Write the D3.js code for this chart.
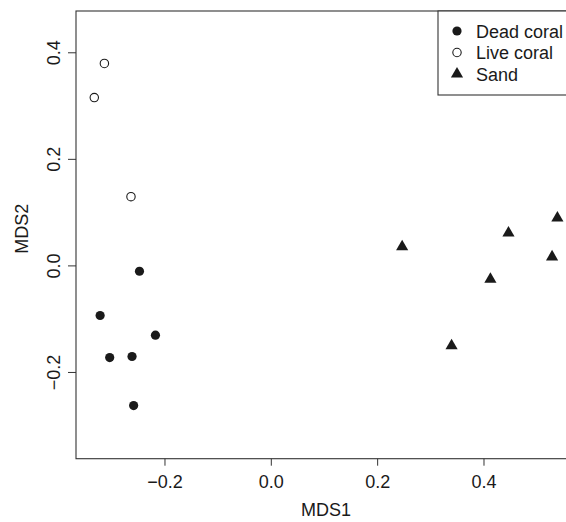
<!DOCTYPE html>
<html>
<head>
<meta charset="utf-8">
<script src="https://cdn.jsdelivr.net/npm/d3@7/dist/d3.min.js"></script>
<style>
  html, body { margin: 0; padding: 0; background: #fff; }
  svg { display: block; }
  text { font-family: "Liberation Sans", Arial, Helvetica, sans-serif; fill: #1a1a1a; }
</style>
</head>
<body>
<svg id="chart" width="566" height="522"></svg>
<script>
// NMDS ordination scores per habitat
const deadMDS1 = [-0.247, -0.321, -0.217, -0.303, -0.261, -0.258];
const deadMDS2 = [-0.011, -0.094, -0.131, -0.173, -0.171, -0.263];
const liveMDS1 = [-0.313, -0.332, -0.263];
const liveMDS2 = [0.379, 0.315, 0.129];
const sandMDS1 = [0.247, 0.447, 0.539, 0.529, 0.413, 0.340];
const sandMDS2 = [0.035, 0.061, 0.089, 0.016, -0.026, -0.151];

const xTicks = [-0.2, 0.0, 0.2, 0.4];
const yTicks = [-0.2, 0.0, 0.2, 0.4];
const legendLabels = ["Dead coral", "Live coral", "Sand"];

const ink = "#1a1a1a";
const plot = { left: 76, right: 576, top: 11, bottom: 458.7 };

const svg = d3.select("#chart");

const x = d3.scaleLinear().domain([-0.3664, 0.574]).range([plot.left, plot.right]);
const y = d3.scaleLinear().domain([-0.3628, 0.4775]).range([plot.bottom, plot.top]);

const fmt = v => (v < 0 ? "\u2212" : "") + Math.abs(v).toFixed(1);

// x axis ticks and labels
const xAxis = d3.axisBottom(x).tickValues(xTicks).tickSize(7).tickPadding(10).tickFormat(fmt);
const gx = svg.append("g").attr("transform", `translate(0,${plot.bottom})`).call(xAxis);
gx.select(".domain").remove();
gx.selectAll(".tick line").attr("stroke", "#333").attr("stroke-width", 1);
gx.selectAll(".tick text").attr("font-size", 18).attr("fill", ink)
  .attr("font-family", "'Liberation Sans', Arial, sans-serif");

// y axis ticks and rotated labels
const yAxis = d3.axisLeft(y).tickValues(yTicks).tickSize(8).tickPadding(0).tickFormat(fmt);
const gy = svg.append("g").attr("transform", `translate(${plot.left},0)`).call(yAxis);
gy.select(".domain").remove();
gy.selectAll(".tick line").attr("stroke", "#333").attr("stroke-width", 1);
gy.selectAll(".tick text")
  .attr("font-size", 18).attr("fill", ink)
  .attr("font-family", "'Liberation Sans', Arial, sans-serif")
  .attr("x", null).attr("dy", null)
  .attr("text-anchor", "middle")
  .attr("transform", "translate(-16,0) rotate(-90)");

// plot frame
svg.append("rect")
  .attr("x", plot.left).attr("y", plot.top)
  .attr("width", plot.right - plot.left).attr("height", plot.bottom - plot.top)
  .attr("fill", "none").attr("stroke", "#333").attr("stroke-width", 1.1);

// axis titles
svg.append("text")
  .attr("x", (plot.left + plot.right) / 2).attr("y", 516)
  .attr("text-anchor", "middle").attr("font-size", 18).text("MDS1");
svg.append("text")
  .attr("transform", `translate(28,${(plot.top + plot.bottom) / 2 - 6}) rotate(-90)`)
  .attr("text-anchor", "middle").attr("font-size", 18).text("MDS2");

// points
const tri = d3.symbol().type(d3.symbolTriangle).size(64);

svg.append("g").selectAll("circle")
  .data(d3.zip(deadMDS1, deadMDS2)).join("circle")
  .attr("cx", d => x(d[0])).attr("cy", d => y(d[1]))
  .attr("r", 4.6).attr("fill", ink);

svg.append("g").selectAll("circle")
  .data(d3.zip(liveMDS1, liveMDS2)).join("circle")
  .attr("cx", d => x(d[0])).attr("cy", d => y(d[1]))
  .attr("r", 4.2).attr("fill", "#fff").attr("stroke", ink).attr("stroke-width", 1.1);

svg.append("g").selectAll("path")
  .data(d3.zip(sandMDS1, sandMDS2)).join("path")
  .attr("d", tri)
  .attr("transform", d => `translate(${x(d[0])},${y(d[1])})`)
  .attr("fill", ink);

// legend
const lg = svg.append("g");
lg.append("rect")
  .attr("x", 438).attr("y", plot.top)
  .attr("width", plot.right - 438).attr("height", 84)
  .attr("fill", "#fff").attr("stroke", "#333").attr("stroke-width", 1.1);

const rowY = [31, 52.5, 74];
const symX = 457;
lg.append("circle").attr("cx", symX).attr("cy", rowY[0]).attr("r", 4.6).attr("fill", ink);
lg.append("circle").attr("cx", symX).attr("cy", rowY[1]).attr("r", 4.2)
  .attr("fill", "#fff").attr("stroke", ink).attr("stroke-width", 1.1);
lg.append("path").attr("d", tri).attr("transform", `translate(${symX},${rowY[2]})`).attr("fill", ink);

lg.selectAll("text.lab").data(legendLabels).join("text")
  .attr("class", "lab")
  .attr("x", 476).attr("y", (d, i) => rowY[i] + 6.5)
  .attr("font-size", 18).text(d => d);
</script>
</body>
</html>
